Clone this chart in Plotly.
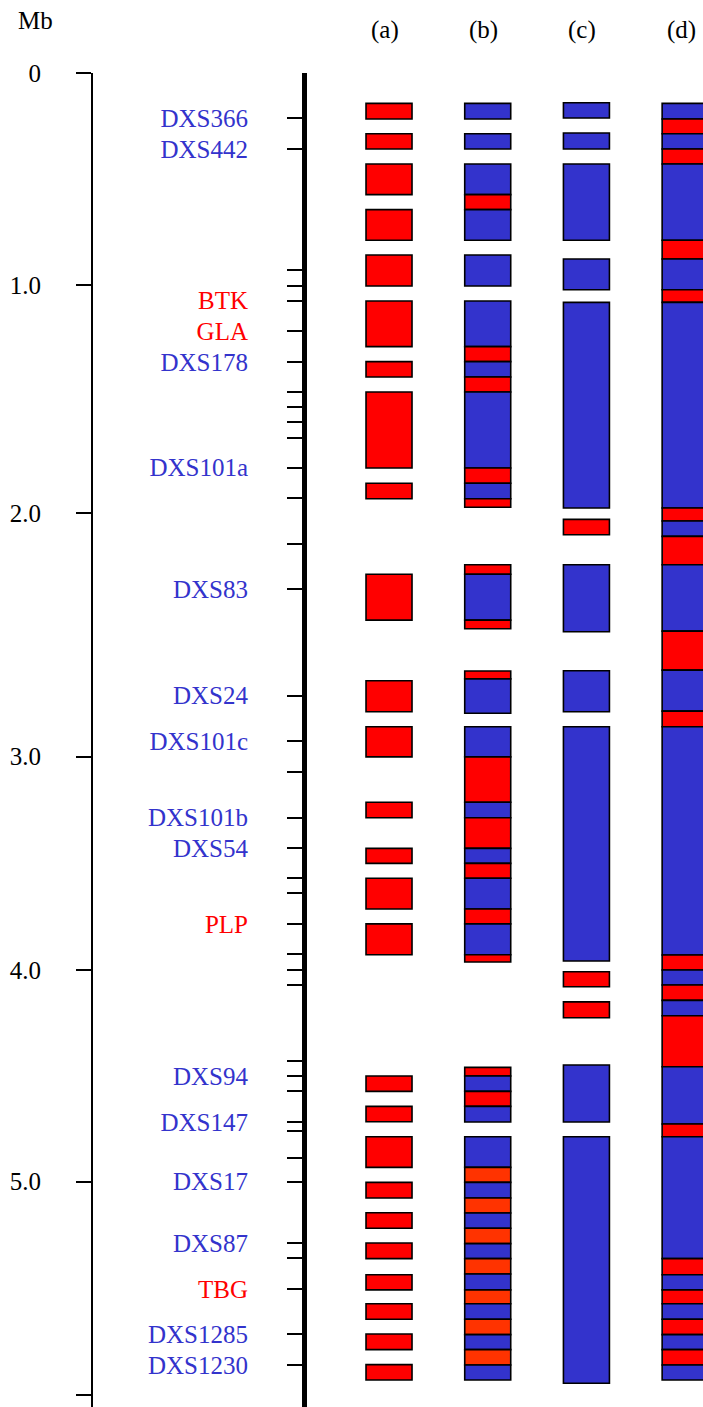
import plotly.graph_objects as go

# ---------------- data ----------------
columns = ["(a)", "(b)", "(c)", "(d)"]

mb_tick_pos = [0, 0.964, 1.998, 3.103, 4.071, 5.032, 6.0]
mb_tick_text = ["0", "1.0", "2.0", "3.0", "4.0", "5.0", "6.0"]

marker_pos = [0.204, 0.344, 0.894, 0.967, 1.033, 1.170, 1.312, 1.449, 1.517, 1.585,
              1.655, 1.791, 1.928, 2.138, 2.343, 2.826, 3.033, 3.173, 3.379, 3.519,
              3.655, 3.723, 3.862, 4.000, 4.071, 4.138, 4.483, 4.552, 4.620, 4.760,
              4.802, 4.923, 5.032, 5.312, 5.380, 5.519, 5.725, 5.864]
marker_names = ["DXS366", "DXS442", "", "", "BTK", "GLA", "DXS178", "", "", "",
                "", "DXS101a", "", "", "DXS83", "DXS24", "DXS101c", "", "DXS101b", "DXS54",
                "", "", "PLP", "", "", "", "", "DXS94", "", "DXS147",
                "", "", "DXS17", "DXS87", "", "TBG", "DXS1285", "DXS1230"]
marker_kind = ["B", "B", "", "", "R", "R", "B", "", "", "",
               "", "B", "", "", "B", "B", "B", "", "B", "B",
               "", "", "R", "", "", "", "", "B", "", "B",
               "", "", "B", "B", "", "R", "B", "B"]

a_start = [0.138, 0.276, 0.413, 0.620, 0.826, 1.035, 1.310, 1.448, 1.862, 2.275, 2.758,
           2.967, 3.310, 3.519, 3.655, 3.862, 4.552, 4.690, 4.828, 5.035, 5.173, 5.310,
           5.454, 5.586, 5.723, 5.862]
a_end = [0.209, 0.345, 0.552, 0.759, 0.967, 1.242, 1.380, 1.793, 1.932, 2.483, 2.899,
         3.104, 3.380, 3.587, 3.794, 4.002, 4.622, 4.760, 4.967, 5.106, 5.243, 5.381,
         5.523, 5.656, 5.794, 5.932]
a_state = ["R"] * 26

b_start = [0.138, 0.276, 0.413, 0.552, 0.620, 0.826, 1.035, 1.242, 1.310, 1.380, 1.448,
           1.793, 1.862, 1.932, 2.232, 2.275, 2.483, 2.714, 2.750, 2.967, 3.104, 3.310,
           3.380, 3.519, 3.587, 3.655, 3.794, 3.862, 4.002, 4.513, 4.552, 4.622, 4.690,
           4.828, 4.967, 5.035, 5.106, 5.174, 5.243, 5.313, 5.381, 5.451, 5.523, 5.586,
           5.656, 5.726, 5.794, 5.864]
b_end = [0.209, 0.345, 0.552, 0.620, 0.759, 0.967, 1.242, 1.310, 1.380, 1.448, 1.793,
         1.862, 1.932, 1.971, 2.275, 2.483, 2.522, 2.750, 2.906, 3.104, 3.310, 3.380,
         3.519, 3.587, 3.655, 3.794, 3.862, 4.002, 4.035, 4.552, 4.622, 4.690, 4.761,
         4.967, 5.035, 5.106, 5.174, 5.243, 5.313, 5.381, 5.451, 5.523, 5.586, 5.656,
         5.726, 5.794, 5.864, 5.932]
b_state = ["B", "B", "B", "R", "B", "B", "B", "R", "B", "R", "B",
           "R", "B", "R", "R", "B", "R", "R", "B", "B", "R", "B",
           "R", "B", "R", "B", "R", "B", "R", "R", "B", "R", "B",
           "B", "O", "B", "O", "B", "O", "B", "O", "B", "O", "B",
           "O", "B", "O", "B"]

c_start = [0.135, 0.272, 0.413, 0.844, 1.041, 2.026, 2.232, 2.713, 2.967, 4.079, 4.216,
           4.502, 4.828]
c_end = [0.204, 0.345, 0.759, 0.984, 1.974, 2.096, 2.536, 2.899, 4.030, 4.147, 4.288,
         4.761, 5.947]
c_state = ["B", "B", "B", "B", "B", "R", "B", "B", "B", "R", "R", "B", "B"]

d_start = [0.138, 0.209, 0.276, 0.345, 0.413, 0.759, 0.844, 0.984, 1.041, 1.974, 2.033,
           2.103, 2.232, 2.533, 2.710, 2.896, 2.967, 4.003, 4.071, 4.139, 4.209, 4.279,
           4.510, 4.770, 4.828, 5.381, 5.454, 5.523, 5.586, 5.656, 5.726, 5.794, 5.864]
d_end = [0.209, 0.276, 0.345, 0.413, 0.759, 0.844, 0.984, 1.041, 1.974, 2.033, 2.103,
         2.232, 2.533, 2.710, 2.896, 2.967, 4.003, 4.071, 4.139, 4.209, 4.279, 4.510,
         4.770, 4.828, 5.381, 5.454, 5.523, 5.586, 5.656, 5.726, 5.794, 5.864, 5.932]
d_state = ["B", "R", "B", "R", "B", "R", "B", "R", "B", "R", "B",
           "R", "B", "R", "B", "R", "B", "R", "B", "R", "B", "R",
           "B", "R", "B", "R", "B", "R", "B", "R", "B", "R", "B"]

# ---------------- style ----------------
STATE_COLOR = {"R": "#ff0000", "B": "#3333cc", "O": "#ff3300"}
LABEL_COLOR = {"R": "#ff0000", "B": "#3333cc", "": "#000000"}
FONT = "Liberation Serif"
FS = 25
BAR_W = 0.466

fig = go.Figure()

col_data = [(a_start, a_end, a_state), (b_start, b_end, b_state),
            (c_start, c_end, c_state), (d_start, d_end, d_state)]
for i, (st, en, stt) in enumerate(col_data):
    fig.add_trace(go.Bar(
        x=[i] * len(st),
        base=st,
        y=[e - s for s, e in zip(st, en)],
        width=BAR_W,
        marker=dict(color=[STATE_COLOR[s] for s in stt],
                    line=dict(color="black", width=1.6)),
        name=columns[i],
        showlegend=False,
        hoverinfo="skip",
    ))

# invisible carrier trace for the marker (map) axis
fig.add_trace(go.Scatter(
    x=[0] * len(marker_pos), y=marker_pos, yaxis="y2", mode="markers",
    marker=dict(opacity=0), showlegend=False, hoverinfo="skip"))

marker_ticktext = [
    f'<span style="color:{LABEL_COLOR[k]}">{n}</span>' if n else ""
    for n, k in zip(marker_names, marker_kind)
]

YR = [6.0545, 0]
fig.update_layout(
    width=703, height=1407,
    margin=dict(l=93, r=0, t=73, b=0),
    paper_bgcolor="white", plot_bgcolor="white",
    barmode="overlay",
    hovermode=False,
    font=dict(family=FONT, size=FS, color="black"),
    xaxis=dict(range=[-2.999, 3.181], visible=False, fixedrange=True),
    yaxis=dict(range=YR, tickmode="array", tickvals=mb_tick_pos, ticktext=mb_tick_text,
               showline=True, linewidth=2, linecolor="black", ticks="outside",
               ticklen=15, tickwidth=2, tickcolor="black", showgrid=False,
               zeroline=False, ticklabelstandoff=30, fixedrange=True,
               tickfont=dict(family=FONT, size=FS, color="black")),
    yaxis2=dict(range=YR, overlaying="y", anchor="free", position=0.3459, side="left",
                tickmode="array", tickvals=marker_pos, ticktext=marker_ticktext,
                showline=True, linewidth=5, linecolor="black", ticks="outside",
                ticklen=15, tickwidth=2, tickcolor="black", showgrid=False,
                zeroline=False, ticklabelstandoff=34, fixedrange=True,
                tickfont=dict(family=FONT, size=FS, color="#3333cc")),
)

annotations = [dict(text="Mb", xref="paper", yref="paper", x=-0.095, y=1.0397,
                    showarrow=False, xanchor="center", yanchor="middle",
                    font=dict(family=FONT, size=FS, color="black"))]
for i, c in enumerate(columns):
    annotations.append(dict(text=c, xref="x", yref="paper", x=i, y=1.0322, xshift=-4,
                            showarrow=False, xanchor="center", yanchor="middle",
                            font=dict(family=FONT, size=FS, color="black")))
fig.update_layout(annotations=annotations)

fig.write_html("out.html", config={"displayModeBar": False},
               post_script="document.body.style.margin='0';")
